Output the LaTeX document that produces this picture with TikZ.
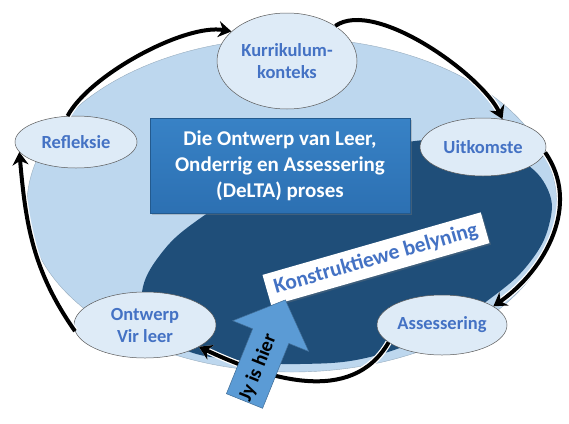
\documentclass[tikz,border=0pt]{standalone}
\usepackage{fontspec}
\setmainfont{Carlito}
\usetikzlibrary{shapes.geometric,arrows.meta,shadows}

\definecolor{outerblue}{RGB}{189,215,238}
\definecolor{innerblue}{RGB}{31,78,121}
\definecolor{stagefill}{RGB}{222,235,247}
\definecolor{stagetext}{RGB}{68,114,196}
\definecolor{boxtop}{RGB}{56,130,198}
\definecolor{boxbottom}{RGB}{44,112,178}
\definecolor{hereblue}{RGB}{91,155,213}

\tikzset{
  stage/.style={ellipse, draw=black!65, line width=0.5pt, fill=stagefill,
    text=stagetext, font=\fontsize{18.5}{22}\selectfont\bfseries,
    inner sep=0pt, align=center},
  deltabox/.style={rectangle, minimum width=260pt, minimum height=95pt,
    top color=boxtop, bottom color=boxbottom, draw=boxbottom!80!black,
    line width=0.4pt, text=white, font=\fontsize{21}{26}\selectfont\bfseries,
    align=center, drop shadow={opacity=0.35, shadow xshift=2pt, shadow yshift=-2pt}},
  cyclearrow/.style={line width=4pt, -{Stealth[length=13pt,width=16pt]},
    preaction={draw=white, line width=6.5pt}}
}

\begin{document}
\begin{tikzpicture}[x=1pt,y=-1pt]
\useasboundingbox (0,0) rectangle (569,423);

% background
\filldraw[fill=outerblue, draw=outerblue!80!black, line width=0.4pt] (292,205) ellipse [x radius=265, y radius=167];
\fill[innerblue] plot[smooth cycle, tension=0.7] coordinates {
  (415,141) (470,143) (520,160) (548,190) (549,225) (530,262) (495,295)
  (440,330) (370,357) (300,364) (235,360) (185,350) (150,325) (142,292)
  (160,255) (195,222) (250,190) (330,160)};

% stages
\node[stage, minimum width=140pt, minimum height=96pt] (kurr) at (287,61) {Kurrikulum-\\konteks};
\node[stage, minimum width=122pt, minimum height=52pt] (refl) at (76,142) {Refleksie};
\node[stage, minimum width=126pt, minimum height=58pt] (uitk) at (483,147) {Uitkomste};
\node[stage, minimum width=130pt, minimum height=60pt] (ass) at (442,325) {Assessering};
\node[stage, minimum width=142pt, minimum height=66pt] (ontw) at (145,325) {Ontwerp\\Vir leer};

\node[deltabox] (delta) at (280,165.5) {Die Ontwerp van Leer,\\Onderrig en Assessering\\(DeLTA) proses};

% cycle
\draw[cyclearrow] (refl.108) to[out=62, in=170, looseness=0.65] (kurr.152);
\draw[cyclearrow] (kurr.36) to[out=35, in=115, looseness=0.65] (uitk.55);
\draw[cyclearrow] (uitk.-5) to[out=-55, in=35] (ass.20);
\draw[cyclearrow] (ass.198) to[out=-120, in=-25] (ontw.-22);
\draw[cyclearrow] (ontw.185) to[out=125, in=-85] (refl.190);

\node[fill=white, rotate=16, minimum width=227pt, minimum height=32pt, inner sep=0pt,
  text=stagetext, font=\fontsize{21.5}{24}\selectfont\bfseries,
  drop shadow={opacity=0.3, shadow xshift=1.5pt, shadow yshift=-1.5pt}] (belyn) at (376,259) {Konstruktiewe belyning};

% you are here
\begin{scope}[shift={(244.5,401)}, rotate=68]
  \filldraw[fill=hereblue, draw=hereblue!70!black, line width=0.5pt]
    (0,-19.5) -- (70,-19.5) -- (70,-41) -- (109,0) -- (70,41) -- (70,19.5) -- (0,19.5) -- cycle;
\end{scope}
\node[rotate=68, font=\fontsize{20}{22}\selectfont\bfseries] (here) at (258,368) {Jy is hier};
\end{tikzpicture}
\end{document}
